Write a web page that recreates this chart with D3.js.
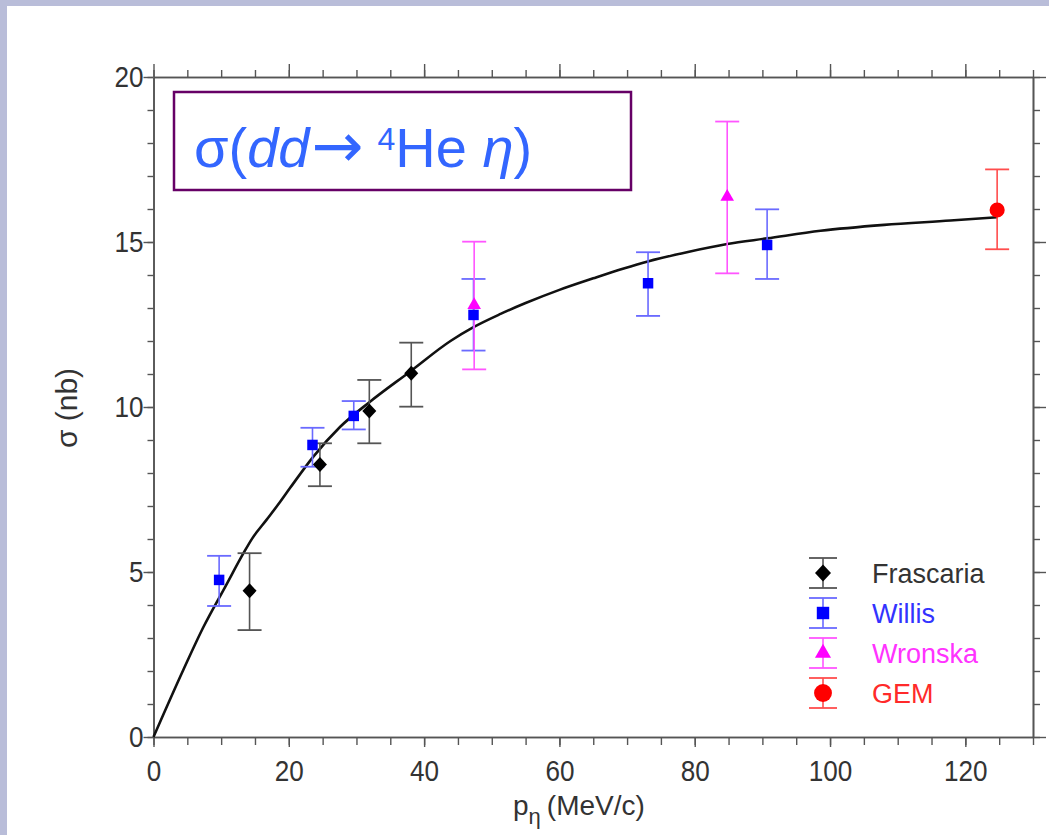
<!DOCTYPE html>
<html><head><meta charset="utf-8">
<script src="https://cdn.jsdelivr.net/npm/d3@7/dist/d3.min.js"></script>
<style>body{margin:0;padding:0;overflow:hidden}</style>
</head><body>
<svg id="chart" width="1049" height="835"></svg>
<script>
// ---- data ----
const seriesNames = ["Frascaria", "Willis", "Wronska", "GEM"];
const frascariaP = [14.2, 24.6, 31.9, 38.1];
const frascariaSigma = [4.43, 8.26, 9.88, 11.02];
const frascariaLo = [3.24, 7.6, 8.9, 10.01];
const frascariaHi = [5.57, 8.9, 10.82, 11.95];
const willisP = [9.7, 23.5, 29.6, 47.3, 73.1, 90.7];
const willisSigma = [4.76, 8.85, 9.73, 12.79, 13.75, 14.91];
const willisLo = [3.97, 8.19, 9.32, 11.71, 12.76, 13.88];
const willisHi = [5.49, 9.37, 10.18, 13.88, 14.69, 15.99];
const wronskaP = [47.4, 84.8];
const wronskaSigma = [13.09, 16.37];
const wronskaLo = [11.14, 14.05];
const wronskaHi = [15.01, 18.65];
const gemP = [124.7];
const gemSigma = [15.97];
const gemLo = [14.78];
const gemHi = [17.2];
// fitted curve
const curveP = [0, 4.4, 7.4, 10.6, 13.3, 14.6, 16.7, 18.7, 20.2, 23.6, 27.6, 32.0, 37.9, 43.9, 47.3, 51.3, 55.0, 60.0, 65.0, 69.5, 73.2, 79.0, 84.8, 90.7, 98.6, 108.0, 117.8, 124.7];
const curveSigma = [0, 2.03, 3.34, 4.55, 5.57, 6.02, 6.58, 7.12, 7.55, 8.49, 9.4, 10.16, 11.07, 12.0, 12.42, 12.82, 13.15, 13.55, 13.9, 14.2, 14.42, 14.7, 14.94, 15.11, 15.34, 15.52, 15.65, 15.75];
const xMajorTicks = [0, 20, 40, 60, 80, 100, 120];
const yMajorTicks = [0, 5, 10, 15, 20];

// ---- layout ----
const svg = d3.select("#chart");
const FONT = "'Liberation Sans', Arial, Helvetica, sans-serif";
svg.append("rect").attr("width", 1049).attr("height", 835).attr("fill", "#b9bdd9");
svg.append("rect").attr("x", 7).attr("y", 6).attr("width", 1042).attr("height", 829).attr("fill", "#ffffff");

const x = d3.scaleLinear().domain([0, 130]).range([153.5, 1033]);
const y = d3.scaleLinear().domain([0, 20]).range([737, 77]);

const axisColor = "#555";
function styleAxis(g) {
  g.selectAll("path.domain").attr("stroke", axisColor).attr("stroke-width", 1.6);
  g.selectAll(".tick line").attr("stroke", axisColor).attr("stroke-width", 1.4);
  g.selectAll("text").attr("fill", "#333").attr("font-family", FONT).attr("font-size", 29);
}
const xMinor = d3.range(0, 131, 5);
const yMinor = d3.range(0, 21, 1);

// bottom
svg.append("g").attr("transform", "translate(0,737)")
  .call(d3.axisBottom(x).tickValues(xMinor).tickSize(8).tickSizeOuter(0).tickFormat(""))
  .call(styleAxis);
const gb = svg.append("g").attr("transform", "translate(0,737)")
  .call(d3.axisBottom(x).tickValues(xMajorTicks).tickSize(10).tickSizeOuter(0).tickPadding(13).tickFormat(d3.format("d")))
  .call(styleAxis);
gb.selectAll("text").attr("transform", "scale(0.9,1)");
// top
svg.append("g").attr("transform", "translate(0,77)")
  .call(d3.axisTop(x).tickValues(xMinor).tickSize(7).tickSizeOuter(0).tickFormat(""))
  .call(styleAxis);
svg.append("g").attr("transform", "translate(0,77)")
  .call(d3.axisTop(x).tickValues(xMajorTicks).tickSize(13).tickSizeOuter(0).tickFormat(""))
  .call(styleAxis);
// left
svg.append("g").attr("transform", "translate(153.5,0)")
  .call(d3.axisLeft(y).tickValues(yMinor).tickSize(6).tickSizeOuter(0).tickFormat(""))
  .call(styleAxis);
const gl = svg.append("g").attr("transform", "translate(153.5,0)")
  .call(d3.axisLeft(y).tickValues(yMajorTicks).tickSize(10).tickSizeOuter(0).tickPadding(1).tickFormat(d3.format("d")))
  .call(styleAxis);
gl.selectAll("text").attr("transform", "scale(0.9,1)");
// right
svg.append("g").attr("transform", "translate(1033,0)")
  .call(d3.axisRight(y).tickValues(yMinor).tickSize(7).tickSizeOuter(0).tickFormat(""))
  .call(styleAxis);
svg.append("g").attr("transform", "translate(1033,0)")
  .call(d3.axisRight(y).tickValues(yMajorTicks).tickSize(13).tickSizeOuter(0).tickFormat(""))
  .call(styleAxis);

// axis titles
const xt = svg.append("text").attr("x", 513).attr("y", 815)
  .attr("font-family", FONT).attr("font-size", 28).attr("fill", "#333");
xt.append("tspan").text("p");
xt.append("tspan").attr("dy", 9).attr("font-size", 22).text("η");
xt.append("tspan").attr("dy", -9).attr("dx", 6).text("(MeV/c)");

svg.append("text").attr("transform", "translate(77,408) rotate(-90)")
  .attr("text-anchor", "middle").attr("font-family", FONT).attr("font-size", 30).attr("fill", "#333")
  .text("σ (nb)");

// title box
svg.append("rect").attr("x", 174).attr("y", 92).attr("width", 457).attr("height", 98)
  .attr("fill", "white").attr("stroke", "#660066").attr("stroke-width", 2.5);
const tt = svg.append("text").attr("x", 194).attr("y", 167)
  .attr("font-family", FONT).attr("font-size", 56).attr("fill", "#3366ff");
tt.append("tspan").text("σ(");
tt.append("tspan").attr("font-style", "italic").text("dd");
tt.append("tspan").attr("font-family", "'DejaVu Sans', sans-serif").attr("font-size", 62).attr("dx", 2).text("→");
tt.append("tspan").attr("font-size", 32).attr("dx", 14).attr("dy", -17).text("4");
tt.append("tspan").attr("dy", 17).text("He ");
tt.append("tspan").attr("font-style", "italic").text("η");
tt.append("tspan").text(")");

// curve
const curveData = curveP.map((p, i) => [p, curveSigma[i]]);
svg.append("path").datum(curveData)
  .attr("fill", "none").attr("stroke", "#111").attr("stroke-width", 2.6)
  .attr("d", d3.line().x(d => x(d[0])).y(d => y(d[1])).curve(d3.curveMonotoneX));

// series
const diamond = "M0,-7.5L7,0L0,7.5L-7,0Z";
const series = [
  {name: "Frascaria", p: frascariaP, s: frascariaSigma, lo: frascariaLo, hi: frascariaHi, bar: "#555555", fill: "#000000", text: "#333333", sym: null, size: 0},
  {name: "Willis", p: willisP, s: willisSigma, lo: willisLo, hi: willisHi, bar: "#6a6aff", fill: "#0000ff", text: "#3333ff", sym: d3.symbolSquare, size: 110},
  {name: "Wronska", p: wronskaP, s: wronskaSigma, lo: wronskaLo, hi: wronskaHi, bar: "#ff55ff", fill: "#ff00ff", text: "#ff33ff", sym: d3.symbolTriangle, size: 80},
  {name: "GEM", p: gemP, s: gemSigma, lo: gemLo, hi: gemHi, bar: "#ff4d4d", fill: "#ff0000", text: "#ff2a2a", sym: d3.symbolCircle, size: 180}
];
function symPath(sr, k) {
  if (!sr.sym) return k > 1 ? "M0,-8.5L8,0L0,8.5L-8,0Z" : diamond;
  return d3.symbol().type(sr.sym).size(sr.size * k)();
}
const capW = 12;
series.forEach(sr => {
  const g = svg.append("g");
  sr.p.forEach((p, i) => {
    const cx = x(p);
    g.append("line").attr("x1", cx).attr("x2", cx).attr("y1", y(sr.lo[i])).attr("y2", y(sr.hi[i]))
      .attr("stroke", sr.bar).attr("stroke-width", 1.6);
    [sr.lo[i], sr.hi[i]].forEach(v => {
      g.append("line").attr("x1", cx - capW).attr("x2", cx + capW).attr("y1", y(v)).attr("y2", y(v))
        .attr("stroke", sr.bar).attr("stroke-width", 1.8);
    });
  });
});
series.forEach(sr => {
  svg.append("g").selectAll("path").data(sr.p).join("path")
    .attr("transform", (p, i) => `translate(${x(p)},${y(sr.s[i])})`)
    .attr("d", symPath(sr, 1))
    .attr("fill", sr.fill);
});

// legend
const lg = svg.append("g").attr("transform", "translate(823,573)");
series.forEach((sr, i) => {
  const row = lg.append("g").attr("transform", `translate(0,${i * 40})`);
  row.append("line").attr("y1", -15).attr("y2", 15).attr("stroke", sr.bar).attr("stroke-width", 1.6);
  [-15, 15].forEach(v => row.append("line").attr("x1", -14).attr("x2", 14).attr("y1", v).attr("y2", v)
    .attr("stroke", sr.bar).attr("stroke-width", 1.8));
  row.append("path").attr("d", symPath(sr, 1.4)).attr("fill", sr.fill);
  row.append("text").attr("x", 49).attr("y", 10).attr("font-family", FONT).attr("font-size", 27)
    .attr("fill", sr.text).text(sr.name);
});
</script>
</body></html>
